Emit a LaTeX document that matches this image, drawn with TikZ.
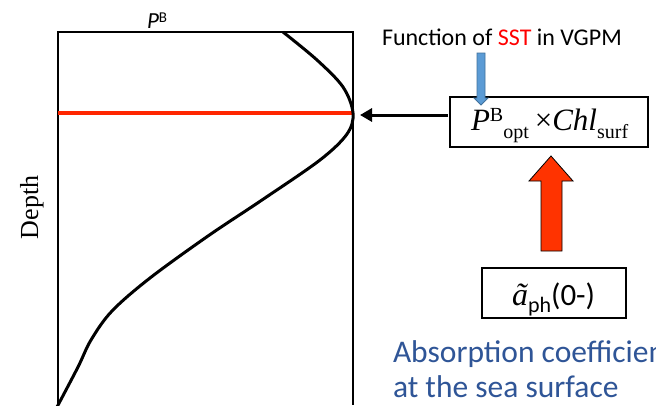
\documentclass[tikz,border=0pt]{standalone}
\usepackage{fontspec}
\setmainfont{Liberation Serif}
\newfontfamily\calfont{Carlito}
\usetikzlibrary{arrows.meta}
\definecolor{profred}{RGB}{255,38,0}
\definecolor{arrowred}{RGB}{255,51,0}
\definecolor{sstred}{RGB}{255,0,0}
\definecolor{arrowblue}{RGB}{91,155,213}
\definecolor{arrowblueedge}{RGB}{65,113,156}
\definecolor{notetext}{RGB}{47,85,151}
\tikzset{
  frame/.style={line width=1.3pt, black},
  profile/.style={line width=3pt, black, line join=round},
  plain/.style={inner sep=0pt, outer sep=0pt},
}
\begin{document}
\begin{tikzpicture}[x=1pt, y=-1pt]
\clip (0,0) rectangle (656,405);
\useasboundingbox (0,0) rectangle (656,405);
\fill[white] (0,0) rectangle (656,405);

% profile frame
\draw[frame] (58,405) -- (58,32) -- (353,32) -- (353,405);

% depth of the maximum
\coordinate (redL) at (58,113);
\coordinate (peak) at (353,113);
\draw[profred, line width=3.5pt] (redL) -- (peak);

% P^B profile with depth
\draw[profile] plot[smooth, tension=0.55] coordinates {
  (283,32) (317,60) (343,87) (353,113) (347,134) (320,160) (262,200)
  (208,236) (150,278) (112,311) (91,340) (78,367) (57,407)};

% axis labels
\node[plain, anchor=base west] (pblab) at (147,28)
  {\calfont\fontsize{23}{23}\selectfont\itshape P\upshape\raisebox{6pt}{\fontsize{15}{15}\selectfont B}};
\node[plain, anchor=base, rotate=90] (depth) at (38,207.5)
  {\fontsize{26}{26}\selectfont Depth};

% caption of the blue arrow
\node[plain, anchor=base west] (sstnote) at (382,45)
  {\calfont\fontsize{24}{24}\selectfont Function of \textcolor{sstred}{SST} in VGPM};

% formula box
\draw[line width=1.3pt] (450,97) rectangle (648,147);
\node[plain, anchor=base west] (formula) at (471,130)
  {\fontsize{31}{31}\selectfont\textit{P}\raisebox{9pt}{\fontsize{20}{20}\selectfont B}\raisebox{-8pt}{\fontsize{20}{20}\selectfont opt}\hspace{6pt}×\textit{Chl}\raisebox{-8pt}{\fontsize{20}{20}\selectfont surf}};

% blue block arrow
\filldraw[fill=arrowblue, draw=arrowblueedge, line width=0.8pt]
  (477,53) -- (485,53) -- (485,98) -- (488,98) -- (481,105) -- (474,98) -- (477,98) -- cycle;

% black arrow towards the maximum
\coordinate (arrstart) at (448,115);
\coordinate (arrend) at (360,115);
\draw[line width=3pt, -{Triangle[length=12pt,width=13pt]}] (arrstart) -- (arrend);

% red block arrow
\filldraw[fill=arrowred, draw=black, line width=0.8pt]
  (541,251) -- (562,251) -- (562,181) -- (573,181) -- (551,156) -- (529,181) -- (541,181) -- cycle;

% absorption box
\draw[line width=1.3pt] (482,268) rectangle (626,318);
\node[plain, anchor=base west] (absorb) at (512,305)
  {\fontsize{32}{32}\selectfont\textit{ã}\raisebox{-7pt}{\calfont\fontsize{22}{22}\selectfont ph}{\calfont\fontsize{31}{31}\selectfont(0-)}};

% note below
\node[plain, anchor=base west] (note1) at (393,362)
  {\calfont\fontsize{31.5}{31.5}\selectfont\color{notetext}Absorption coefficient};
\node[plain, anchor=base west] (note2) at (393,397)
  {\calfont\fontsize{31.5}{31.5}\selectfont\color{notetext}at the sea surface};
\end{tikzpicture}
\end{document}
